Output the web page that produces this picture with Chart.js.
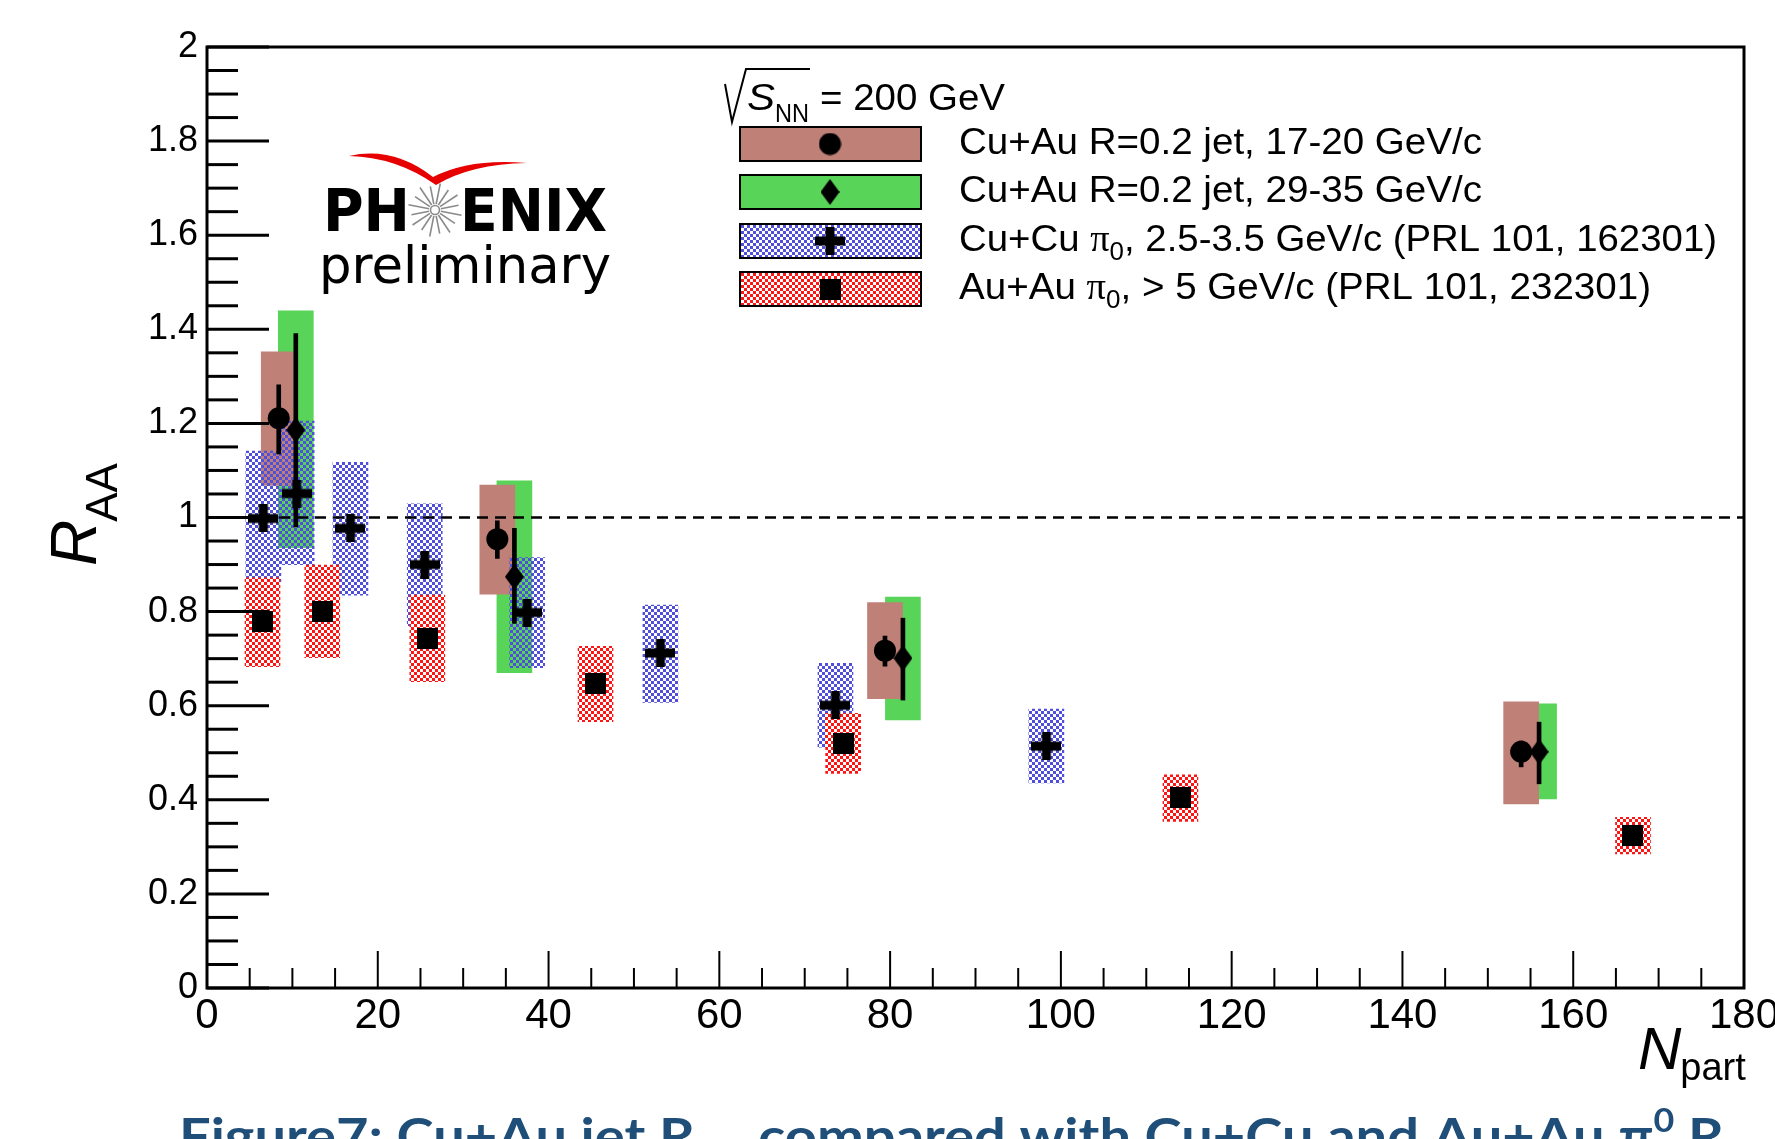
<!DOCTYPE html>
<html>
<head>
<meta charset="utf-8">
<style>
  html, body { margin: 0; padding: 0; background: #fff; overflow: hidden; }
  canvas { display: block; }
</style>
<script src="https://cdn.jsdelivr.net/npm/chart.js@4.4.1/dist/chart.umd.min.js"></script>
</head>
<body>
<canvas id="raa" width="1775" height="1139"></canvas>
<script>
// ---- Cu+Au R=0.2 jet, 17-20 GeV/c ----
const jet17Npart  = [8.4, 34.0, 79.4, 153.9];
const jet17Raa    = [1.211, 0.954, 0.717, 0.502];
const jet17StatHi = [1.282, 0.993, 0.748, 0.525];
const jet17StatLo = [1.135, 0.913, 0.684, 0.470];
const jet17SysHi  = [1.352, 1.069, 0.819, 0.608];
const jet17SysLo  = [1.068, 0.837, 0.615, 0.391];

// ---- Cu+Au R=0.2 jet, 29-35 GeV/c ----
const jet29Npart  = [10.4, 36.0, 81.5, 156.0];
const jet29Raa    = [1.186, 0.874, 0.701, 0.502];
const jet29StatHi = [1.391, 0.977, 0.786, 0.565];
const jet29StatLo = [0.980, 0.775, 0.612, 0.434];
const jet29SysHi  = [1.439, 1.078, 0.831, 0.604];
const jet29SysLo  = [0.936, 0.670, 0.570, 0.402];

// ---- Cu+Cu pi0, 2.5-3.5 GeV/c ----
const cucuNpart  = [6.6, 10.5, 16.8, 25.5, 37.5, 53.1, 73.6, 98.3];
const cucuRaa    = [0.998, 1.051, 0.977, 0.900, 0.798, 0.712, 0.601, 0.514];
const cucuStatHi = [1.020, 1.073, 0.999, 0.922, 0.820, 0.734, 0.623, 0.536];
const cucuStatLo = [0.976, 1.029, 0.955, 0.878, 0.776, 0.690, 0.579, 0.492];
const cucuSysHi  = [1.141, 1.205, 1.117, 1.029, 0.915, 0.814, 0.690, 0.593];
const cucuSysLo  = [0.857, 0.900, 0.835, 0.770, 0.681, 0.607, 0.512, 0.436];

// ---- Au+Au pi0, > 5 GeV/c ----
const auauNpart  = [6.5, 13.5, 25.8, 45.5, 74.5, 114.0, 167.0];
const auauRaa    = [0.779, 0.801, 0.743, 0.647, 0.520, 0.405, 0.325];
const auauStatHi = [0.800, 0.814, 0.756, 0.659, 0.531, 0.415, 0.334];
const auauStatLo = [0.758, 0.788, 0.730, 0.635, 0.509, 0.395, 0.316];
const auauSysHi  = [0.872, 0.899, 0.835, 0.726, 0.584, 0.453, 0.363];
const auauSysLo  = [0.683, 0.702, 0.651, 0.566, 0.456, 0.354, 0.285];

// reference line R_AA = 1 across the full N_part range
const unityNpart = [0, 180];
const unityRaa   = [1, 1];

// axis ranges and tick steps
const xRange = [0, 180];
const yRange = [0, 2];
const xMajorStep = 20, xMinorStep = 5;
const yMajorStep = 0.2, yMinorStep = 0.05;

// legend text
const energyLabel = '= 200 GeV';
const legendLabels = [
  ['Cu+Au R=0.2 jet, 17-20 GeV/c'],
  ['Cu+Au R=0.2 jet, 29-35 GeV/c'],
  ['Cu+Cu ', 'π', '0', ', 2.5-3.5 GeV/c (PRL 101, 162301)'],
  ['Au+Au ', 'π', '0', ', > 5 GeV/c (PRL 101, 232301)']
];

const SANS = '"Liberation Sans", Arial, Helvetica, sans-serif';

// ---------- helpers ----------
const points = (xs, ys) => xs.map((x, i) => ({ x, y: ys[i] }));
const ranges = (xs, lo, hi) => xs.map((x, i) => ({ x, y: [lo[i], hi[i]] }));

function checker(color) {
  const c = document.createElement('canvas');
  c.width = 6; c.height = 6;
  const g = c.getContext('2d');
  g.fillStyle = color;
  g.fillRect(0, 0, 3, 3);
  g.fillRect(3, 3, 3, 3);
  return g.createPattern(c, 'repeat');
}

function marker(w, h, paint) {
  const c = document.createElement('canvas');
  c.width = w; c.height = h;
  const g = c.getContext('2d');
  g.fillStyle = '#000';
  paint(g, w, h);
  return c;
}

const diamondMarker = marker(19, 26, (g, w, h) => {
  g.beginPath();
  g.moveTo(w / 2, 0); g.lineTo(w, h / 2); g.lineTo(w / 2, h); g.lineTo(0, h / 2);
  g.closePath(); g.fill();
});
const crossMarker = marker(30, 28, (g) => {
  g.fillRect(0, 9.5, 30, 9);
  g.fillRect(10.5, 0, 9, 28);
});
const squareMarker = marker(21, 21, (g, w, h) => g.fillRect(0, 0, w, h));
const circleMarker = marker(23, 23, (g) => {
  g.beginPath(); g.arc(11.5, 11.5, 11, 0, Math.PI * 2); g.fill();
});

const BROWN = '#bf8077';
const GREEN = '#58d458';
const bluePattern = checker('#4f4fdc');
const redPattern = checker('#ff1414');

// horizontally fitted rich text: parts = [{t, font, dy}]
function richText(ctx, parts, x, baseline, width) {
  let total = 0;
  for (const p of parts) { ctx.font = p.font; p.w = ctx.measureText(p.t).width; total += p.w; }
  const sx = width ? width / total : 1;
  ctx.save();
  ctx.translate(x, baseline);
  ctx.scale(sx, 1);
  let cx = 0;
  for (const p of parts) {
    ctx.font = p.font;
    ctx.fillText(p.t, cx, p.dy || 0);
    cx += p.w;
  }
  ctx.restore();
  return x + total * sx;
}

// ---------- frame and inner ticks ----------
const rootFrame = {
  id: 'rootFrame',
  afterDraw(chart) {
    const { ctx, chartArea: a, scales: { x, y } } = chart;
    ctx.save();
    ctx.strokeStyle = '#000';
    ctx.lineCap = 'butt';

    ctx.lineWidth = 3;
    const ny = Math.round((yRange[1] - yRange[0]) / yMinorStep);
    const perMajorY = Math.round(yMajorStep / yMinorStep);
    for (let k = 0; k <= ny; k++) {
      const py = y.getPixelForValue(yRange[0] + k * yMinorStep);
      const len = k % perMajorY === 0 ? 62 : 31;
      ctx.beginPath(); ctx.moveTo(a.left, py); ctx.lineTo(a.left + len, py); ctx.stroke();
    }

    ctx.lineWidth = 2;
    const nx = Math.round((xRange[1] - xRange[0]) / xMinorStep);
    const perMajorX = Math.round(xMajorStep / xMinorStep);
    for (let k = 0; k <= nx; k++) {
      const px = x.getPixelForValue(xRange[0] + k * xMinorStep);
      const len = k % perMajorX === 0 ? 37 : 20;
      ctx.beginPath(); ctx.moveTo(px, a.bottom); ctx.lineTo(px, a.bottom - len); ctx.stroke();
    }

    ctx.lineWidth = 3;
    ctx.strokeRect(a.left, a.top, a.right - a.left, a.bottom - a.top);
    ctx.restore();
  }
};

// ---------- legend, logo, axis titles, caption ----------
const annotations = {
  id: 'annotations',
  afterDraw(chart) {
    const ctx = chart.ctx;
    ctx.save();
    ctx.fillStyle = '#000';
    ctx.strokeStyle = '#000';
    ctx.textBaseline = 'alphabetic';
    ctx.textAlign = 'left';

    // sqrt(s_NN) = 200 GeV
    ctx.lineWidth = 2;
    ctx.beginPath();
    ctx.moveTo(725, 84); ctx.lineTo(732, 122); ctx.lineTo(746, 69); ctx.lineTo(810, 69);
    ctx.stroke();
    richText(ctx, [{ t: 'S', font: 'italic 37px ' + SANS }], 747, 110, 28);
    richText(ctx, [{ t: 'NN', font: '25px ' + SANS }], 775, 122, 34);
    richText(ctx, [{ t: energyLabel, font: '37px ' + SANS }], 820, 110, 185);

    // legend entries
    const boxTops = [127, 175, 224, 272];
    const baselines = [154, 202, 251, 299];
    const widths = [523, 523, 758, 692];
    const fills = [BROWN, GREEN, bluePattern, redPattern];
    const marks = [circleMarker, diamondMarker, crossMarker, squareMarker];
    for (let i = 0; i < 4; i++) {
      const bx = 740, bw = 181, bh = 34, by = boxTops[i];
      ctx.fillStyle = '#fff';
      ctx.fillRect(bx, by, bw, bh);
      ctx.fillStyle = fills[i];
      ctx.fillRect(bx, by, bw, bh);
      ctx.lineWidth = 2;
      ctx.strokeStyle = '#000';
      ctx.strokeRect(bx, by, bw, bh);
      const m = marks[i];
      ctx.drawImage(m, 830 - m.width / 2, by + bh / 2 - m.height / 2);
      ctx.fillStyle = '#000';
      const lab = legendLabels[i];
      const parts = lab.length === 1
        ? [{ t: lab[0], font: '37px ' + SANS }]
        : [{ t: lab[0], font: '37px ' + SANS },
           { t: lab[1], font: '37px "Liberation Serif", serif' },
           { t: lab[2], font: '25px ' + SANS, dy: 9 },
           { t: lab[3], font: '37px ' + SANS }];
      richText(ctx, parts, 959, baselines[i], widths[i]);
    }

    // PHENIX logo: swoosh
    ctx.fillStyle = '#e60000';
    ctx.beginPath();
    ctx.moveTo(349, 156);
    ctx.quadraticCurveTo(393, 146, 433, 177);
    ctx.quadraticCurveTo(470, 158, 527, 163);
    ctx.quadraticCurveTo(471, 164, 436, 185);
    ctx.quadraticCurveTo(396, 157, 349, 156);
    ctx.closePath();
    ctx.fill();

    // PHENIX logo: starburst
    ctx.strokeStyle = '#8a8a8a';
    ctx.lineWidth = 1.6;
    const cx = 435, cy = 210;
    for (let k = 0; k < 16; k++) {
      const ang = (k * 22.5 + 11.25) * Math.PI / 180;
      const r1 = 6, r2 = k % 2 ? 24 : 27;
      ctx.beginPath();
      ctx.moveTo(cx + r1 * Math.cos(ang), cy + r1 * Math.sin(ang));
      ctx.lineTo(cx + r2 * Math.cos(ang), cy + r2 * Math.sin(ang));
      ctx.stroke();
    }
    ctx.beginPath(); ctx.arc(cx, cy, 4.5, 0, Math.PI * 2); ctx.stroke();

    // PHENIX logo: letters
    ctx.fillStyle = '#000';
    richText(ctx, [{ t: 'PH', font: 'bold 59px "DejaVu Sans", sans-serif' }], 323, 231, 87);
    richText(ctx, [{ t: 'ENIX', font: 'bold 59px "DejaVu Sans", sans-serif' }], 460, 231, 147);
    richText(ctx, [{ t: 'preliminary', font: '52px "DejaVu Sans", sans-serif' }], 319, 283, 292);

    // y title: R_AA (rotated)
    ctx.save();
    ctx.translate(96, 566);
    ctx.rotate(-Math.PI / 2);
    ctx.fillStyle = '#000';
    ctx.font = 'italic 64px ' + SANS;
    ctx.fillText('R', 0, 0);
    const rw = ctx.measureText('R').width;
    ctx.font = '44px ' + SANS;
    ctx.fillText('AA', rw - 2, 21);
    ctx.restore();

    // x title: N_part
    ctx.font = 'italic 60px ' + SANS;
    ctx.fillText('N', 1638, 1069);
    const nw = ctx.measureText('N').width;
    ctx.font = '38px ' + SANS;
    ctx.fillText('part', 1638 + nw - 1, 1080);

    // caption below the frame
    ctx.fillStyle = '#1f4e79';
    const cf = 'bold 50px Lato, "Open Sans", sans-serif';
    const cs = 'bold 32px Lato, "Open Sans", sans-serif';
    const end = richText(ctx, [
      { t: 'Figure7: Cu+Au jet R', font: cf },
      { t: 'AA', font: cs, dy: 10 },
      { t: ' compared with Cu+Cu and Au+Au π', font: cf },
      { t: '0', font: cs, dy: -22 },
      { t: ' R', font: cf }
    ], 179, 1154, 1545);
    ctx.font = cs;
    ctx.fillText('AA', end, 1164);
    ctx.restore();
  }
};

function build() {
  const ctx = document.getElementById('raa').getContext('2d');
  new Chart(ctx, {
    type: 'scatter',
    data: {
      datasets: [
        // markers (top)
        { type: 'scatter', data: points(jet17Npart, jet17Raa), pointStyle: 'circle', pointRadius: 11,
          pointBackgroundColor: '#000', pointBorderWidth: 0, order: 0 },
        { type: 'scatter', data: points(jet29Npart, jet29Raa), pointStyle: diamondMarker, order: 0 },
        { type: 'scatter', data: points(cucuNpart, cucuRaa), pointStyle: crossMarker, order: 0 },
        { type: 'scatter', data: points(auauNpart, auauRaa), pointStyle: squareMarker, order: 0 },
        // statistical error bars
        { type: 'bar', data: ranges(jet17Npart, jet17StatLo, jet17StatHi), backgroundColor: '#000', barThickness: 4, grouped: false, order: 1 },
        { type: 'bar', data: ranges(jet29Npart, jet29StatLo, jet29StatHi), backgroundColor: '#000', barThickness: 4, grouped: false, order: 1 },
        { type: 'bar', data: ranges(cucuNpart, cucuStatLo, cucuStatHi), backgroundColor: '#000', barThickness: 4, grouped: false, order: 1 },
        { type: 'bar', data: ranges(auauNpart, auauStatLo, auauStatHi), backgroundColor: '#000', barThickness: 4, grouped: false, order: 1 },
        // R_AA = 1
        { type: 'line', data: points(unityNpart, unityRaa), borderColor: '#000', borderWidth: 2.5,
          borderDash: [11, 7], pointRadius: 0, fill: false, order: 2 },
        // systematic boxes
        { type: 'bar', data: ranges(auauNpart, auauSysLo, auauSysHi), backgroundColor: redPattern, barThickness: 35, grouped: false, order: 3 },
        { type: 'bar', data: ranges(cucuNpart, cucuSysLo, cucuSysHi), backgroundColor: bluePattern, barThickness: 35, grouped: false, order: 4 },
        { type: 'bar', data: ranges(jet17Npart, jet17SysLo, jet17SysHi), backgroundColor: BROWN, barThickness: 35, grouped: false, order: 5 },
        { type: 'bar', data: ranges(jet29Npart, jet29SysLo, jet29SysHi), backgroundColor: GREEN, barThickness: 35, grouped: false, order: 6 }
      ]
    },
    options: {
      responsive: false,
      animation: false,
      devicePixelRatio: 1,
      events: [],
      layout: { padding: { top: 47, right: 31, left: 0, bottom: 0 } },
      plugins: { legend: { display: false }, tooltip: { enabled: false } },
      scales: {
        x: {
          type: 'linear', min: xRange[0], max: xRange[1], offset: false,
          grid: { display: false, drawTicks: false }, border: { display: false },
          ticks: { stepSize: xMajorStep, color: '#000', padding: 3, maxRotation: 0, autoSkip: false,
                   font: { family: SANS, size: 42 }, callback: v => String(v) },
          afterFit: s => { s.height = 151; s.paddingLeft = 0; s.paddingRight = 0; }
        },
        y: {
          type: 'linear', min: yRange[0], max: yRange[1],
          grid: { display: false, drawTicks: false }, border: { display: false },
          ticks: { stepSize: yMajorStep, color: '#000', padding: 9, autoSkip: false,
                   font: { family: SANS, size: 36 }, callback: v => String(Math.round(v * 10) / 10) },
          afterFit: s => { s.width = 207; s.paddingTop = 0; s.paddingBottom = 0; }
        }
      }
    },
    plugins: [rootFrame, annotations]
  });
}

const fontLoads = [
  '36px "Liberation Sans"', 'italic 36px "Liberation Sans"', '36px "Liberation Serif"',
  'bold 36px "DejaVu Sans"', '36px "DejaVu Sans"', 'bold 36px Lato'
].map(f => document.fonts.load(f).catch(() => null));
Promise.all(fontLoads).then(build, build);
</script>
</body>
</html>
